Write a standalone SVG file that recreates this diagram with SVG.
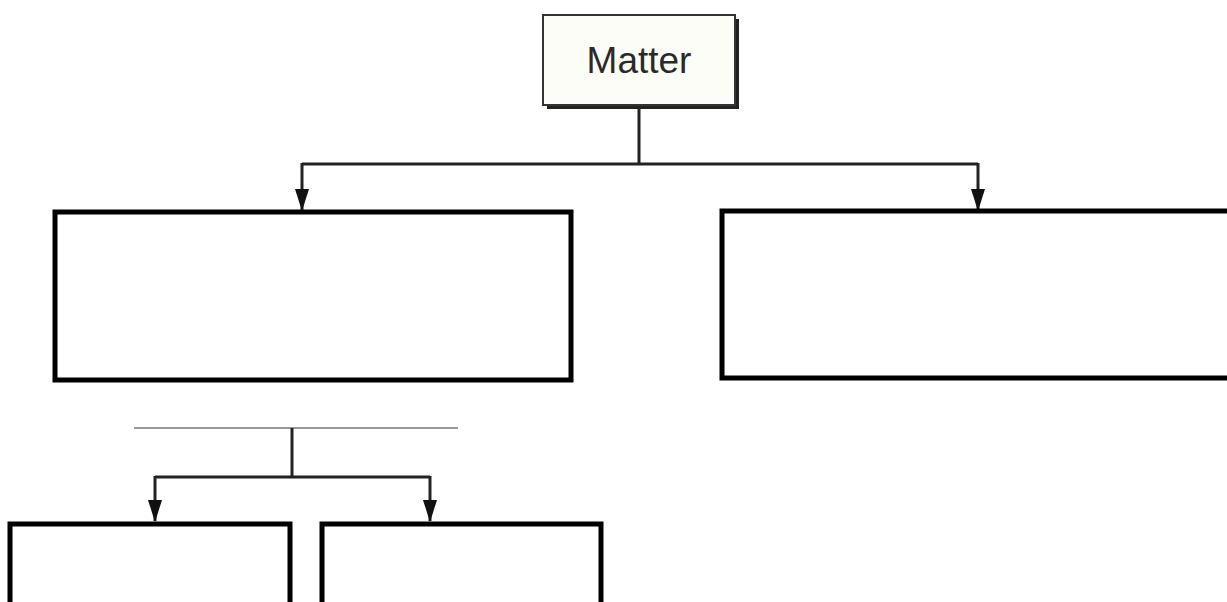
<svg xmlns="http://www.w3.org/2000/svg" width="1227" height="602" viewBox="0 0 1227 602">
<defs>
<style>
.box{fill:#fff;stroke:#000;stroke-width:5}
.conn{fill:none;stroke:#222;stroke-width:3}
.thin{fill:none;stroke:#777;stroke-width:1.5}
.lbl{font-family:"Liberation Sans",Arial,sans-serif;font-size:37px;fill:#2a2a2a;text-anchor:middle}
</style>
<marker id="arr" viewBox="0 0 22 14" refX="21" refY="7" markerWidth="22" markerHeight="14" markerUnits="userSpaceOnUse" orient="auto">
<path d="M0,0 L22,7 L0,14 Z" fill="#111"/>
</marker>
</defs>
<rect width="1227" height="602" fill="#fff"/>
<g id="connectors">
<path class="conn" d="M639,107 V164"/>
<path class="conn" d="M302,164 H639 H978"/>
<path class="conn" d="M302,163 V210" marker-end="url(#arr)"/>
<path class="conn" d="M978,163 V210" marker-end="url(#arr)"/>
<path class="thin" d="M134,428 H458"/>
<path class="conn" d="M292,428 V477"/>
<path class="conn" d="M155,477 H430"/>
<path class="conn" d="M155,476 V521" marker-end="url(#arr)"/>
<path class="conn" d="M430,476 V521" marker-end="url(#arr)"/>
</g>
<g id="matter">
<rect x="547" y="19" width="192" height="90" fill="#222"/>
<rect x="543" y="15" width="192" height="90" fill="#fdfdf8" stroke="#333" stroke-width="2"/>
<text class="lbl" x="639" y="73">Matter</text>
</g>
<g id="left-box"><rect class="box" x="55" y="212" width="516" height="168"/></g>
<g id="right-box"><rect class="box" x="722" y="211" width="520" height="167"/></g>
<g id="bottom-left-box"><rect class="box" x="10" y="524" width="280" height="100"/></g>
<g id="bottom-right-box"><rect class="box" x="322" y="524" width="279" height="100"/></g>
</svg>
